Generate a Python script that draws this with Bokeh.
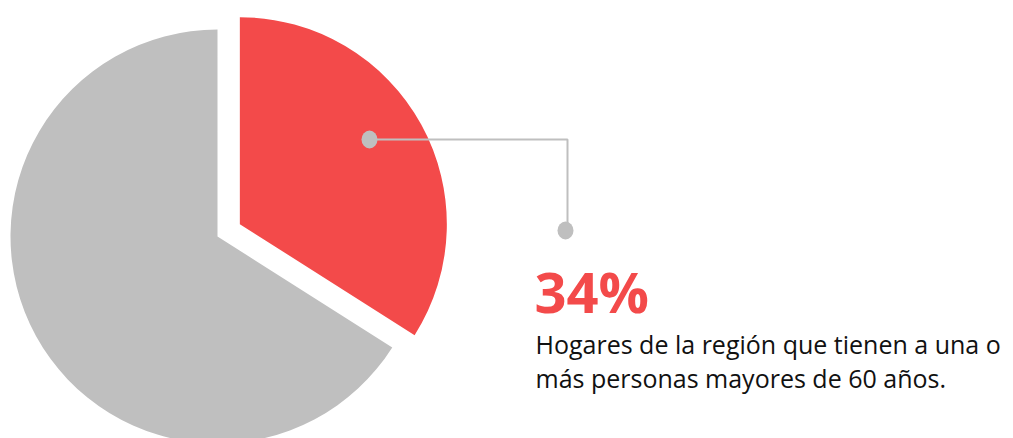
import numpy as np
from bokeh.plotting import figure
from bokeh.models import Range1d
from bokeh.core.properties import value
from bokeh.embed import file_html
from bokeh.resources import INLINE

# Data
categories = ["Otros hogares", "Hogares con personas mayores de 60 años"]
shares = [66, 34]
colors = ["#BFBFBF", "#F34A4A"]
headline = "34%"
caption_lines = ["Hogares de la región que tienen a una o",
                 "más personas mayores de 60 años."]

W, H = 1013, 438
p = figure(width=W, height=H, output_backend="svg", toolbar_location=None,
           x_range=Range1d(0, W), y_range=Range1d(-H, 0),
           min_border=0, outline_line_color=None)
p.axis.visible = False
p.grid.visible = False
p.background_fill_color = "white"
p.border_fill_color = "white"

# Pie geometry (layout)
cx, cy, r = 217, -236, 207
explode = 25.5

total = float(sum(shares))
red_frac = shares[1] / total
red_start = np.pi / 2 - red_frac * 2 * np.pi
red_end = np.pi / 2
gray_start = np.pi / 2
gray_end = red_start + 2 * np.pi

mid = (red_start + red_end) / 2
rx = cx + explode * np.cos(mid)
ry = cy + explode * np.sin(mid)

p.wedge(x=[cx], y=[cy], radius=r, start_angle=[gray_start], end_angle=[gray_end],
        fill_color=colors[0], line_color=None)
p.wedge(x=[rx], y=[ry], radius=r, start_angle=[red_start], end_angle=[red_end],
        fill_color=colors[1], line_color=None)

# Leader line
p.line(x=[369, 567, 567], y=[-139, -139, -226], line_color="#BFBFBF", line_width=2)
p.ellipse(x=[369, 565], y=[-139, -230], width=16, height=18,
          fill_color="#BFBFBF", line_color=None)

# Texts
p.text(x=[534], y=[-290], text=[headline], text_font=value("Open Sans"),
       text_font_style="bold", text_font_size="56px", text_color=colors[1],
       text_baseline="alphabetic", text_align="left")
p.text(x=[535, 535], y=[-343, -377], text=caption_lines, text_font=value("Open Sans"),
       text_font_size="25px", text_color="#111111",
       text_baseline="alphabetic", text_align="left")

open("out.html", "w").write(file_html(p, INLINE))
